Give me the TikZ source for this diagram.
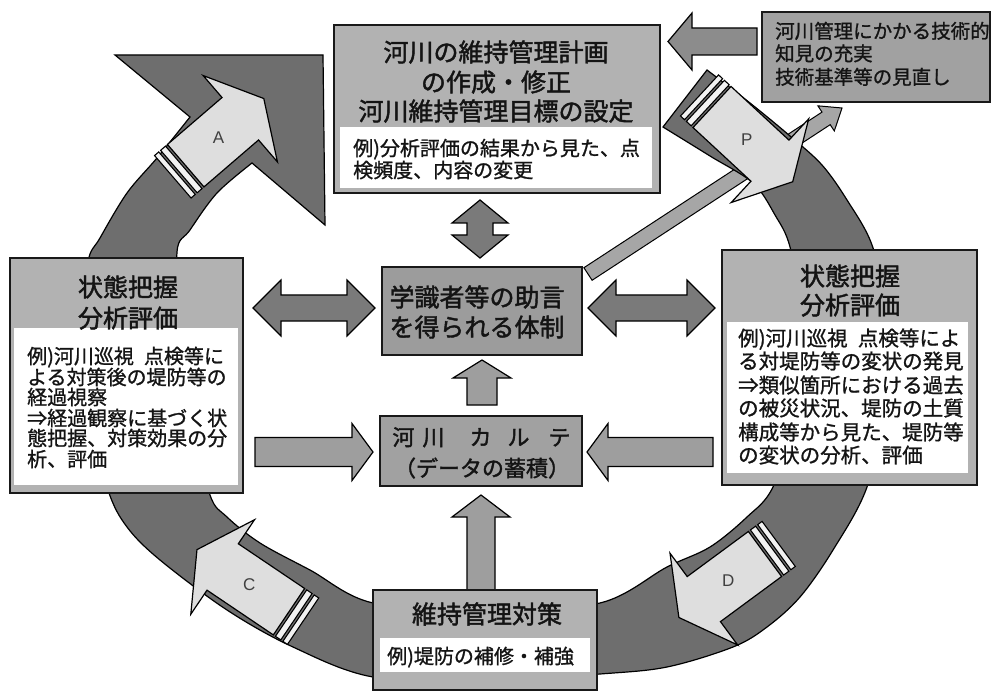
\documentclass[tikz,border=0pt]{standalone}
\usepackage{fontspec}
\newfontfamily\jp{Noto Sans CJK JP}[FakeBold=1.1]
\newfontfamily\jpb{Noto Sans CJK JP}[FakeBold=1.7]
\newfontfamily\lat{Liberation Sans}
\usetikzlibrary{calc}
\definecolor{ringc}{gray}{0.43}
\definecolor{lightc}{gray}{0.87}
\definecolor{stripec}{gray}{0.95}
\definecolor{boxc}{gray}{0.70}
\definecolor{midboxc}{gray}{0.61}
\definecolor{kartec}{gray}{0.63}
\definecolor{trboxc}{gray}{0.63}
\definecolor{darkarrc}{gray}{0.48}
\definecolor{midarrc}{gray}{0.62}
\definecolor{tlarrc}{gray}{0.55}
\definecolor{diagc}{gray}{0.65}
\definecolor{txtc}{gray}{0.08}
\tikzset{
  ring/.style={fill=ringc, draw=black, line width=1.2pt, line join=miter},
  lightarr/.style={fill=lightc, draw=black, line width=1.2pt, line join=miter},
  stripe/.style={fill=stripec, draw=black, line width=1.1pt},
  box/.style={draw=black!90, line width=1.5pt, inner sep=0pt, outer sep=0pt, anchor=north west},
  whitebox/.style={fill=white, draw=none, inner sep=0pt, outer sep=0pt, anchor=north west},
  darkarr/.style={fill=darkarrc, draw=black, line width=1.2pt, line join=miter},
  midarr/.style={fill=midarrc, draw=black, line width=1.2pt, line join=miter},
  tlarr/.style={fill=tlarrc, draw=black, line width=1.2pt, line join=miter},
  diag/.style={fill=diagc, draw=black, line width=1pt, line join=miter},
  ttl/.style={font=\jpb\fontsize{25}{30}\selectfont, inner sep=0pt, anchor=base, text=txtc},
  exl/.style={font=\jp\fontsize{20}{24}\selectfont, inner sep=0pt, anchor=base west, text=txtc},
  exr/.style={font=\jp\fontsize{20.5}{24}\selectfont, inner sep=0pt, anchor=base west, text=txtc},
  exs/.style={font=\jp\fontsize{19.5}{23}\selectfont, inner sep=0pt, anchor=base west, text=txtc},
  kt/.style={font=\jpb\fontsize{22}{26}\selectfont, inner sep=0pt, anchor=base, text=txtc},
  letter/.style={font=\lat\fontsize{17}{20}\selectfont, text=black!75, inner sep=0pt}
}
% single block arrow: style, from, to, half body, half head, head length
\newcommand\blkarrow[6]{%
  \coordinate (qa) at (#2);
  \coordinate (qb) at ($(#3)!#6pt!(#2)$);
  \draw[#1] ($(qa)!#4pt!90:(qb)$) -- ($(qb)!#4pt!-90:(qa)$) -- ($(qb)!#5pt!-90:(qa)$) -- (#3)
    -- ($(qb)!#5pt!90:(qa)$) -- ($(qb)!#4pt!90:(qa)$) -- ($(qa)!#4pt!-90:(qb)$) -- cycle;}
% double block arrow: style, end1, end2, half body, half head, head length
\newcommand\dblarrow[6]{%
  \coordinate (qa) at ($(#2)!#6pt!(#3)$);
  \coordinate (qb) at ($(#3)!#6pt!(#2)$);
  \draw[#1] (#2) -- ($(qa)!#5pt!90:(qb)$) -- ($(qa)!#4pt!90:(qb)$) -- ($(qb)!#4pt!-90:(qa)$)
    -- ($(qb)!#5pt!-90:(qa)$) -- (#3) -- ($(qb)!#5pt!90:(qa)$) -- ($(qb)!#4pt!90:(qa)$)
    -- ($(qa)!#4pt!-90:(qb)$) -- ($(qa)!#5pt!-90:(qb)$) -- cycle;}
% striped arrow: x, y (tail of body), angle, body length, label
\newcommand\strparrow[5]{%
  \begin{scope}[shift={(#1,#2)},rotate=#3]
    \draw[stripe] (-17,-28) -- (-11.5,-28) -- (-11.5,28) -- (-17,28) -- cycle;
    \draw[stripe] (-9,-28) -- (-2.5,-28) -- (-2.5,28) -- (-9,28) -- cycle;
    \draw[lightarr] (0,-28) -- (#4,-28) -- (#4,-57) -- ({#4+31},0) -- (#4,57) -- (#4,28) -- (0,28) -- cycle;
    \node[letter] (lbl#5) at ({0.6*#4},0) {#5};
  \end{scope}}
\begin{document}
\begin{tikzpicture}[x=1pt,y=-1pt]
\useasboundingbox (0,0) rectangle (992,692);
\fill[white] (0,0) rectangle (992,692);

% diagonal arrow towards the top-right box
\coordinate (dg1) at (588,274);
\coordinate (dg2) at (842,108);
\blkarrow{diag}{dg1}{dg2}{7.5}{15}{19}

% the ring
\draw[ring] plot[smooth, tension=0.55] coordinates {(707,70) (750,103) (790,136) (822,165) (847,200) (872,245) (886,310) (886,400) (867,487) (833,550) (800,597) (767,627) (733,647) (667,667) (600,674) (487,681) (373,677) (293,647) (227,610) (160,560) (127,527) (108,490) (88,410) (84,330) (88,262) (100,238) (127,193) (157,158) (190,117)}
  -- (115,55) -- (323,55) -- (325,225)
  -- plot[smooth, tension=0.55] coordinates {(252,163) (217,193) (190,230) (177,252) (182,330) (193,420) (210,495) (227,517) (260,543) (310,570) (373,603) (487,610) (600,603) (667,567) (710,547) (747,517) (773,487) (800,410) (803,320) (790,247) (775,215) (753,183) (710,156) (663,127)} -- cycle;

% PDCA arrows on the ring
\strparrow{185.7}{165.7}{40.7}{72}{A}
\strparrow{712}{107}{-42.8}{79}{P}
\strparrow{289}{611.7}{146}{80}{C}
\strparrow{765}{554}{216.4}{76}{D}

% block arrows
\coordinate (v1) at (480,200); \coordinate (v2) at (480,258);
\dblarrow{darkarr}{v1}{v2}{13}{28}{23}
\coordinate (h1) at (253,308); \coordinate (h2) at (375,308);
\dblarrow{darkarr}{h1}{h2}{13}{28}{28}
\coordinate (h3) at (588,308); \coordinate (h4) at (715,308);
\dblarrow{darkarr}{h3}{h4}{13}{28}{28}
\coordinate (u1) at (482,405); \coordinate (u2) at (482,360);
\blkarrow{midarr}{u1}{u2}{15}{29}{18}
\coordinate (u3) at (481,590); \coordinate (u4) at (481,495);
\blkarrow{midarr}{u3}{u4}{14}{29}{22}
\coordinate (s1) at (255,452); \coordinate (s2) at (373,452);
\blkarrow{midarr}{s1}{s2}{14.5}{28.5}{21}
\coordinate (s3) at (713,452); \coordinate (s4) at (587,452);
\blkarrow{midarr}{s3}{s4}{14.5}{28.5}{21}
\coordinate (w1) at (757,41.5); \coordinate (w2) at (668,41.5);
\blkarrow{tlarr}{w1}{w2}{13.5}{28.5}{24}

% boxes
\node[box, fill=boxc, minimum width=326pt, minimum height=168pt] (plan) at (334,25) {};
\node[whitebox, minimum width=312pt, minimum height=61pt] (planex) at (340,127) {};
\node[box, fill=trboxc, minimum width=228pt, minimum height=90pt] (tech) at (762,12) {};
\node[box, fill=boxc, minimum width=233pt, minimum height=235pt] (lbox) at (10,258) {};
\node[whitebox, minimum width=224pt, minimum height=157pt] (lboxex) at (14,328) {};
\node[box, fill=boxc, minimum width=255pt, minimum height=235pt] (rbox) at (722,250) {};
\node[whitebox, minimum width=241pt, minimum height=151pt] (rboxex) at (727,322) {};
\node[box, fill=midboxc, minimum width=200pt, minimum height=88pt] (advice) at (382,267) {};
\node[box, fill=kartec, minimum width=202pt, minimum height=70pt] (karte) at (380,416) {};
\node[box, fill=boxc, minimum width=224pt, minimum height=100pt] (meas) at (373,590) {};
\node[whitebox, minimum width=210pt, minimum height=34pt] (measex) at (380,638) {};

% texts
\node[ttl] (p1) at (496,61.5) {河川の維持管理計画};
\node[ttl] (p2) at (496,91.5) {の作成・修正};
\node[ttl] (p3) at (496,120.5) {河川維持管理目標の設定};
\node[exl] (pe1) at (353,155.6) {例)分析評価の結果から見た、点};
\node[exl] (pe2) at (353,177.6) {検頻度、内容の変更};

\node[exs] (k1) at (775,38.3) {河川管理にかかる技術的};
\node[exs] (k2) at (775,60.8) {知見の充実};
\node[exs] (k3) at (775,84.3) {技術基準等の見直し};

\node[ttl] (l1) at (128,296.5) {状態把握};
\node[ttl] (l2) at (128,327.5) {分析評価};
\node[exl] (le1) at (27,363.6) {例)河川巡視\hspace{0.5em}点検等に};
\node[exl] (le2) at (27,384.6) {よる対策後の堤防等の};
\node[exl] (le3) at (27,404.6) {経過視察};
\node[exl] (le4) at (27,425.6) {⇒経過観察に基づく状};
\node[exl] (le5) at (27,445.6) {態把握、対策効果の分};
\node[exl] (le6) at (27,466.6) {析、評価};

\node[ttl] (r1) at (850,285.5) {状態把握};
\node[ttl] (r2) at (850,314.5) {分析評価};
\node[exr] (re1) at (738,345.8) {例)河川巡視\hspace{0.5em}点検等によ};
\node[exr] (re2) at (738,368.8) {る対堤防等の変状の発見};
\node[exr] (re3) at (738,392.8) {⇒類似箇所における過去};
\node[exr] (re4) at (738,415.8) {の被災状況、堤防の土質};
\node[exr] (re5) at (738,439.8) {構成等から見た、堤防等};
\node[exr] (re6) at (738,462.8) {の変状の分析、評価};

\node[ttl] (g1) at (477,306.5) {学識者等の助言};
\node[ttl] (g2) at (477,336.5) {を得られる体制};

\node[kt] (c1) at (481.5,445.4) {河\hspace{8pt}川\hspace{25pt}カ\hspace{16pt}ル\hspace{19pt}テ};
\node[kt] (c2) at (482,476.4) {（データの蓄積）};

\node[ttl] (b1) at (487,623.5) {維持管理対策};
\node[exl] (be1) at (387,663.6) {例)堤防の補修・補強};
\end{tikzpicture}
\end{document}
